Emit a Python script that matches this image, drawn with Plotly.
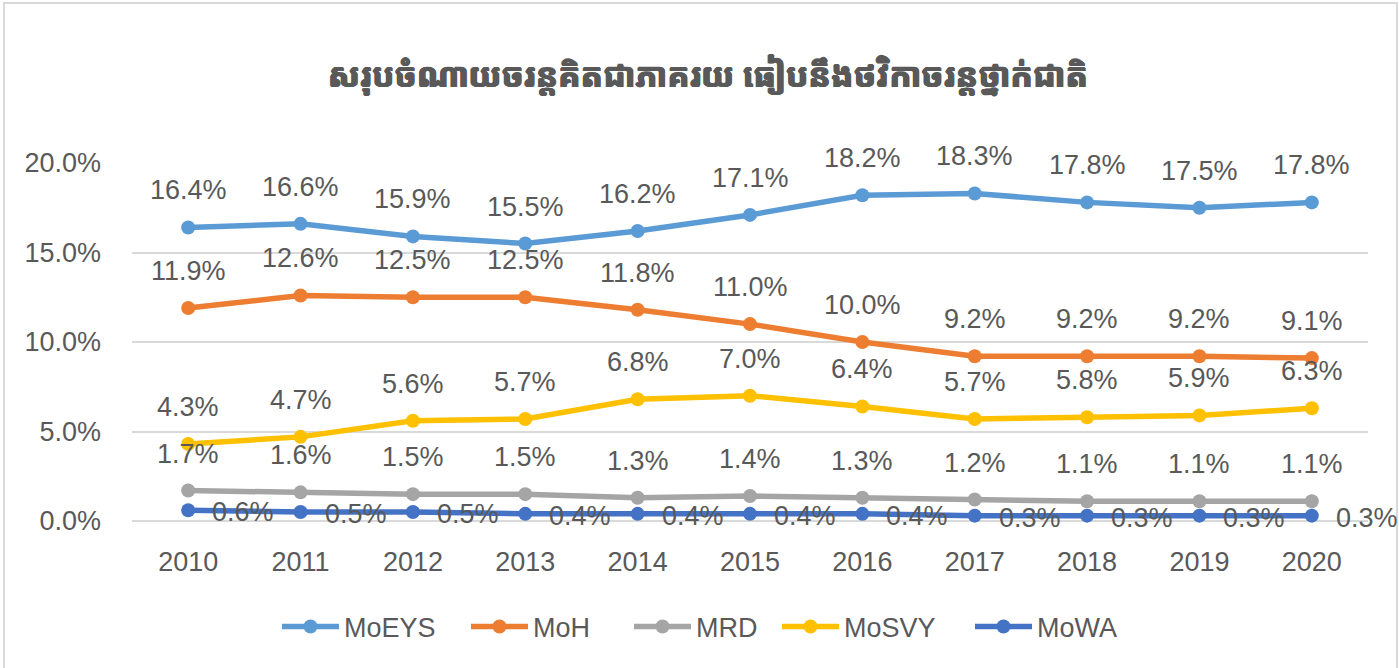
import plotly.graph_objects as go

years = ["2010", "2011", "2012", "2013", "2014", "2015", "2016", "2017", "2018", "2019", "2020"]
moeys = [16.4, 16.6, 15.9, 15.5, 16.2, 17.1, 18.2, 18.3, 17.8, 17.5, 17.8]
moh = [11.9, 12.6, 12.5, 12.5, 11.8, 11.0, 10.0, 9.2, 9.2, 9.2, 9.1]
mrd = [1.7, 1.6, 1.5, 1.5, 1.3, 1.4, 1.3, 1.2, 1.1, 1.1, 1.1]
mosvy = [4.3, 4.7, 5.6, 5.7, 6.8, 7.0, 6.4, 5.7, 5.8, 5.9, 6.3]
mowa = [0.6, 0.5, 0.5, 0.4, 0.4, 0.4, 0.4, 0.3, 0.3, 0.3, 0.3]

title_text = "សរុបចំណាយចរន្តគិតជាភាគរយ ធៀបនឹងថវិកាចរន្តថ្នាក់ជាតិ"

series = [
    ("MoEYS", moeys, "#5B9BD5", "above"),
    ("MoH", moh, "#ED7D31", "above"),
    ("MRD", mrd, "#A5A5A5", "above"),
    ("MoSVY", mosvy, "#FFC000", "above"),
    ("MoWA", mowa, "#4472C4", "right"),
]
legend_starts = [285, 474, 637, 785, 978]

FONT = "Liberation Sans, Arial, sans-serif"
TXT = "#595959"
W, H = 1399, 668
ML, MR, MT, MB = 132, 31, 163, 147

fig = go.Figure()
annotations = []
legends = {}
for i, (name, vals, color, pos) in enumerate(series):
    lg = "legend" if i == 0 else f"legend{i + 1}"
    fig.add_trace(go.Scatter(
        x=years, y=vals, name=name, mode="lines+markers",
        line=dict(color=color, width=5.5),
        marker=dict(color=color, size=14),
        cliponaxis=False, legend=lg, showlegend=True,
    ))
    legends[lg] = dict(orientation="h", xref="container", x=(legend_starts[i] - 8) / W, xanchor="left",
                       yref="container", y=(H - 627) / H, yanchor="middle",
                       font=dict(family=FONT, size=27, color=TXT), itemwidth=57,
                       bgcolor="rgba(0,0,0,0)", visible=True)
    for k, yv in enumerate(vals):
        if pos == "above":
            annotations.append(dict(x=k, y=yv, xref="x", yref="y", text=f"{yv:.1f}%",
                                    showarrow=False, xanchor="center", yanchor="middle",
                                    yshift=37, font=dict(family=FONT, size=27, color=TXT)))
        else:
            annotations.append(dict(x=k, y=yv, xref="x", yref="y", text=f"{yv:.1f}%",
                                    showarrow=False, xanchor="left", yanchor="middle",
                                    xshift=22, yshift=-2, font=dict(family=FONT, size=27, color=TXT)))

pw = W - ML - MR
ph = H - MT - MB
sh = "0.8px 0 0 #595959, -0.8px 0 0 #595959, 0 0.8px 0 #595959, 0 -0.8px 0 #595959"
fig.update_layout(
    width=W, height=H,
    margin=dict(l=ML, r=MR, t=MT, b=MB),
    paper_bgcolor="white", plot_bgcolor="white",
    showlegend=True,
    font=dict(family=FONT, size=27, color=TXT),
    title=dict(text="<b>" + title_text + "</b>", xref="container", x=0.506, xanchor="center",
               yref="container", y=1 - 75 / H, yanchor="middle",
               font=dict(family="Noto Sans Khmer, Khmer OS, Noto Sans, sans-serif", size=33, color=TXT,
                         weight="bold", shadow=sh)),
    xaxis=dict(type="category", range=[-0.5, len(years) - 0.5], showgrid=False, showline=False,
               zeroline=False, ticks="", ticklabelstandoff=22,
               tickfont=dict(family=FONT, size=27, color=TXT)),
    yaxis=dict(range=[0, 20], dtick=5, tickformat=".1f", ticksuffix="%",
               showgrid=True, gridcolor="#D9D9D9", gridwidth=2,
               zeroline=True, zerolinecolor="#D9D9D9", zerolinewidth=2,
               showline=False, ticks="", ticklabelstandoff=30,
               tickfont=dict(family=FONT, size=27, color=TXT)),
    annotations=annotations,
    shapes=[dict(type="rect", xref="paper", yref="paper",
                 x0=(4 - ML) / pw, x1=(1397 - ML) / pw,
                 y0=(MB - 670) / ph, y1=(H - 3 - MB) / ph,
                 line=dict(color="#D9D9D9", width=2), fillcolor="rgba(0,0,0,0)", layer="below")],
    **legends,
)

fig.write_html("out.html")
